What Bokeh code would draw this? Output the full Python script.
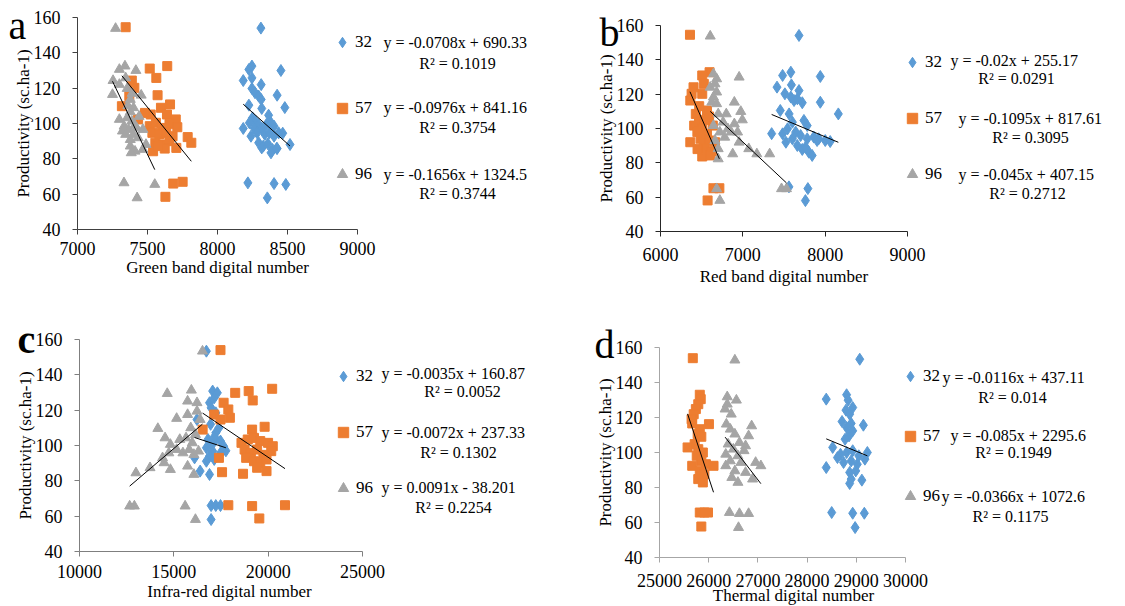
from bokeh.plotting import figure
from bokeh.layouts import column, row
from bokeh.models import FixedTicker, Range1d, Label, Legend, LegendItem, LinearAxis
from bokeh.embed import file_html
from bokeh.resources import INLINE

BLUE, ORANGE, GRAY = "#5B9BD5", "#ED7D31", "#A5A5A5"
SERIF = "Liberation Serif"
SERIES = ["32", "57", "96"]

# ---------------- data ----------------
a32_x = [8310, 8224, 8246, 8453, 8184, 8246, 8312, 8246, 8268, 8294,
         8312, 8426, 8481, 8224, 8316, 8365, 8250, 8272, 8294, 8228,
         8261, 8316, 8349, 8382, 8404, 8184, 8283, 8338, 8371, 8404,
         8437, 8466, 8239, 8294, 8327, 8360, 8393, 8426, 8382, 8316,
         8518, 8423, 8217, 8404, 8488, 8356]
a32_y = [154, 130.6, 132.5, 130, 124.3, 125.8, 122, 119.8, 117.4, 115.5,
         113.6, 116, 109, 110.4, 108.5, 104.7, 103.2, 101.3, 99.4, 100.4,
         97.5, 97.5, 99.4, 100.4, 98.5, 97.2, 94.7, 93.8, 94.7, 92.8,
         94.7, 94.5, 92.8, 89.1, 87.2, 88.5, 85.3, 85.8, 83.4, 86.2,
         88.1, 86, 66.4, 66, 65.5, 57.9]
a57_x = [7344, 7516, 7641, 7563, 7388, 7406, 7572, 7370, 7317, 7596,
         7661, 7433, 7523, 7639, 7702, 7516, 7560, 7601, 7657, 7713,
         7535, 7585, 7634, 7679, 7787, 7813, 7556, 7612, 7657, 7706,
         7540, 7623, 7578, 7482, 7684, 7751, 7628]
a57_y = [154.5, 131.1, 132.5, 125.8, 124.3, 120.2, 116, 115.5, 109.8, 108.9,
         110.8, 102.3, 105.1, 105.1, 102.3, 98.5, 100.4, 97.5, 99.8, 97.9,
         94.7, 93.8, 94.7, 92.8, 92.3, 89.1, 89.1, 88.1, 90, 86.2,
         84.3, 85.8, 87.2, 106, 66, 67, 58.5]
a96_x = [7272, 7299, 7339, 7417, 7254, 7299, 7344, 7250, 7355, 7455,
         7377, 7400, 7377, 7299, 7333, 7355, 7388, 7422, 7321, 7366,
         7400, 7467, 7377, 7433, 7489, 7377, 7411, 7467, 7384, 7344,
         7332, 7552, 7426, 7410, 7440, 7360, 7390]
a96_y = [153.8, 130.6, 132.5, 130, 124.3, 122.1, 125.8, 116.4, 119.8, 116,
         113.6, 108.9, 106.6, 102.3, 98.5, 103.2, 101.3, 97.5, 95.7, 96.6,
         93.8, 96.6, 90.9, 91.9, 88.1, 87.2, 84.3, 85.3, 83.4, 93.8,
         66.4, 65.5, 57.9, 99, 104, 110, 117]

b32_x = [7682, 7483, 7583, 7941, 7415, 7590, 7511, 7583, 7622, 7662,
         7682, 7722, 7941, 8160, 7455, 7562, 7602, 7742, 7782, 7350,
         7483, 7543, 7642, 7702, 7602, 7523, 7782, 7862, 7922, 8001,
         8061, 7662, 7722, 7802, 7762, 7842, 7902, 7560, 7790, 7760]
b32_y = [154.2, 130.9, 132.8, 130.3, 124.1, 125.4, 120.2, 118.3, 116.3, 117.3,
         122.1, 115, 115.3, 108.5, 110.5, 108.5, 103.7, 104.7, 101.7, 97,
         96.9, 99.8, 97.9, 95.9, 94, 92, 94, 95, 94, 93,
         92.4, 90.1, 87.8, 86.2, 89.1, 84.3, 93, 66, 65, 58]
b57_x = [6358, 6596, 6507, 6526, 6401, 6378, 6362, 6507, 6565, 6429,
         6409, 6468, 6507, 6565, 6487, 6526, 6596, 6362, 6545, 6624,
         6507, 6604, 6662, 6448, 6635, 6643, 6715, 6572, 6470, 6540,
         6590, 6450]
b57_y = [154.6, 132.8, 130.9, 126, 124, 120.2, 116.3, 120.2, 110.5, 108.5,
         101.7, 103.7, 99.8, 96.9, 94, 91.1, 93, 92, 88.2, 86.6,
         83.7, 84.3, 92, 97.9, 101.7, 65.2, 65.2, 58.1, 113, 105,
         107, 88]
b96_x = [6604, 6643, 6682, 6955, 6604, 6662, 6682, 6643, 6623, 6682,
         6897, 6701, 6799, 6975, 6994, 6643, 6760, 6897, 6721, 6819,
         6936, 6662, 6780, 6858, 6955, 6701, 7072, 6877, 7170, 7326,
         6701, 6682, 6721, 7470, 7530]
b96_y = [153.8, 131.8, 128.9, 129.9, 124, 126, 121.2, 118.3, 115.3, 114.4,
         115.3, 108.5, 108.5, 109.9, 105, 101.7, 103.7, 102.7, 97.9, 99.8,
         97.9, 93, 94.9, 97.9, 92, 88.2, 88.2, 85.2, 85.2, 85.2,
         82.3, 64.9, 58.1, 64.9, 64.9]

c32_x = [16726, 17058, 17307, 17141, 16892, 16975, 17224, 16228, 17390, 17224,
         16809, 17224, 17473, 17639, 16726, 17058, 17473, 16892, 17141, 16726,
         16394, 16892, 16100, 17639, 16975, 17224, 17473, 16975, 17760, 17000,
         17150, 16950]
c32_y = [153.4, 130.8, 129.8, 127, 124.2, 121.3, 118.5, 114.7, 110, 107.2,
         103.4, 103.4, 102.5, 99.6, 98.7, 96.8, 95.8, 94, 92.1, 91.1,
         85.5, 83.6, 93, 97.7, 66, 66, 66, 58.1, 97, 100,
         105, 112]
c57_x = [17473, 18253, 18967, 20212, 19182, 17639, 17888, 17971, 17141, 17473,
         16527, 19149, 19813, 18585, 18917, 19249, 19581, 19996, 20245, 20162,
         18751, 19083, 19415, 19747, 18834, 19249, 19581, 19913, 17390, 17556,
         18668, 19415, 19913, 17888, 19149, 20892, 19531]
c57_y = [154, 129.8, 130.8, 132.1, 125.5, 124.2, 120.4, 115.7, 117.5, 114.7,
         109, 109, 110.6, 101.5, 103.4, 104.3, 102.5, 101.5, 99.6, 96.8,
         97.7, 95.8, 97.7, 94.7, 93, 91.1, 90.2, 92.1, 93, 84.9,
         84, 87.4, 85.5, 66.2, 65.7, 66.2, 58.7]
c96_x = [16520, 14651, 15929, 15730, 16228, 15149, 15730, 16228, 16394, 14153,
         15896, 14535, 14817, 15315, 15647, 16145, 15979, 15149, 15481, 15813,
         16062, 16311, 14734, 14402, 13738, 14485, 14817, 15730, 12992, 16062,
         12659, 12908, 15598, 16145]
c96_y = [153.4, 129.4, 131.3, 125.1, 124.2, 115.3, 117.5, 119.4, 114.7, 109.6,
         110, 104.3, 100.6, 103.4, 104.3, 106.2, 101.5, 97.7, 95.8, 97.7,
         94.9, 96.8, 95.8, 93, 87.4, 90.2, 86.4, 88.3, 84.5, 83.6,
         65.7, 65.7, 65.7, 58.1]

d32_x = [29070, 28389, 28803, 28834, 28927, 28790, 28865, 28710, 28896, 29144,
         28803, 28852, 28927, 28772, 28520, 28679, 28617, 28803, 28927, 29051,
         29225, 28741, 28896, 29020, 29175, 28389, 28865, 28989, 28896, 29113,
         28865, 28500, 28927, 29163, 28976]
d32_y = [153.3, 130.5, 133, 129.9, 125.7, 124.2, 121.9, 117.7, 116.6, 115.6,
         114.3, 109.5, 112.4, 107.6, 102.9, 99, 97.1, 100, 101, 98.1,
         100, 94.3, 95.2, 93.3, 96.2, 91.4, 88.6, 89.5, 84.8, 84.2,
         82.3, 65.7, 65.3, 65.3, 57.1]
d57_x = [25677, 25819, 25838, 25788, 25739, 25695, 25652, 25665, 26005, 25819,
         25776, 25850, 25714, 25571, 25788, 25881, 25757, 25850, 25665, 25943,
         26098, 25819, 25912, 25788, 25881, 25819, 25912, 25986, 25850]
d57_y = [153.9, 133, 130.5, 127.6, 124.8, 121.9, 119, 116.6, 116.2, 113.3,
         110.5, 109, 104.8, 102.9, 101.9, 100, 98.1, 95.2, 92.4, 93.3,
         92.4, 89.5, 87.6, 84.8, 82.9, 65.7, 65.7, 65.7, 57.7]
d96_x = [26532, 26377, 26563, 26377, 26334, 26458, 26359, 26873, 26439, 26532,
         26811, 26396, 26625, 26749, 26501, 26347, 26594, 26718, 26439, 26656,
         26954, 27060, 26347, 26532, 26749, 26470, 26892, 26594, 26421, 26625,
         26811, 26606]
d96_y = [152.8, 131.8, 129.9, 127.6, 124.8, 121.9, 116.2, 115.2, 113.3, 110.5,
         109.5, 104.8, 105.7, 103.8, 101.9, 99, 98.1, 101, 95.2, 94.3,
         94.3, 92.4, 92.4, 89.5, 88.6, 85.7, 84.8, 82.9, 65.7, 65.1,
         65.1, 57.1]

# trend line coefficients (as printed on the chart)
a_slope = [-0.0708, -0.0976, -0.1656]; a_icpt = [690.33, 841.16, 1324.5]
b_slope = [-0.02, -0.1095, -0.045];    b_icpt = [255.17, 817.61, 407.15]
c_slope = [-0.0035, -0.0072, 0.0091];  c_icpt = [160.87, 237.33, -38.201]
d_slope = [-0.0116, -0.085, -0.0366];  d_icpt = [437.11, 2295.6, 1072.6]

a_eq = ["y = -0.0708x + 690.33", "y = -0.0976x + 841.16", "y = -0.1656x + 1324.5"]
a_r2 = ["R² = 0.1019", "R² = 0.3754", "R² = 0.3744"]
b_eq = ["y = -0.02x + 255.17", "y = -0.1095x + 817.61", "y = -0.045x + 407.15"]
b_r2 = ["R² = 0.0291", "R² = 0.3095", "R² = 0.2712"]
c_eq = ["y = -0.0035x + 160.87", "y = -0.0072x + 237.33", "y = 0.0091x - 38.201"]
c_r2 = ["R² = 0.0052", "R² = 0.1302", "R² = 0.2254"]
d_eq = ["y = -0.0116x + 437.11", "y = -0.085x + 2295.6", "y = -0.0366x + 1072.6"]
d_r2 = ["R² = 0.014", "R² = 0.1949", "R² = 0.1175"]

a_ticks = [7000, 7500, 8000, 8500, 9000]
b_ticks = [6000, 7000, 8000, 9000]
c_ticks = [10000, 15000, 20000, 25000]
d_ticks = [25000, 26000, 27000, 28000, 29000, 30000]
y_ticks = [40, 60, 80, 100, 120, 140, 160]
Y0, Y1 = 40, 160


def build(cfg):
    FL, FT, FR, FB = cfg["rect"]          # figure rectangle on the page
    W, H = FR - FL, FB - FT
    x0, x1 = cfg["xr"]
    p0, p1 = cfg["xpix"]                  # page pixels of x0, x1
    q0, q1 = cfg["ypix"]                  # page pixels of 160, 40
    kx = (p1 - p0) / (x1 - x0)
    ky = (q1 - q0) / (Y1 - Y0)
    xs_ = x0 - (p0 - FL) / kx
    xe_ = x0 + (FR - p0) / kx
    ye_ = Y1 + (q0 - FT) / ky
    ys_ = Y0 - (FB - q1) / ky

    def sx(px):
        return px - FL

    def sy(py):
        return FB - py

    p = figure(width=W, height=H, min_border=0, title=None,
               x_range=Range1d(xs_, xe_), y_range=Range1d(ys_, ye_),
               x_axis_type=None, y_axis_type=None,
               output_backend="svg", toolbar_location=None)
    p.grid.visible = False
    p.outline_line_color = None
    p.background_fill_color = "white"
    p.border_fill_color = "white"

    xax = LinearAxis(fixed_location=Y0, bounds=(x0, x1), ticker=FixedTicker(ticks=cfg["ticks"]))
    yax = LinearAxis(fixed_location=x0, bounds=(Y0, Y1), ticker=FixedTicker(ticks=y_ticks))
    for ax in (xax, yax):
        ax.axis_line_color = cfg["axc"]
        ax.major_tick_line_color = cfg["axc"]
        ax.minor_tick_line_color = None
        ax.major_tick_in = 0
        ax.major_tick_out = 5
        ax.major_label_text_font = SERIF
        ax.major_label_text_font_size = "18px"
        ax.major_label_text_color = "#000000"
        ax.axis_label_text_font = SERIF
        ax.axis_label_text_font_size = "17px"
        ax.axis_label_text_font_style = "normal"
        ax.axis_label_text_color = "#000000"
    yax.major_label_standoff = 12
    yax.axis_label = "Productivity (sc.ha-1)"
    yax.axis_label_standoff = -2
    xax.major_label_standoff = cfg["xlab_stand"]
    if cfg.get("xtitle_stand") is not None:
        xax.axis_label = cfg["xtitle"]
        xax.axis_label_standoff = cfg["xtitle_stand"]
    else:
        tx, ty = cfg["xtitle_pos"]
        p.add_layout(Label(x=sx(tx), y=sy(ty), x_units="screen", y_units="screen",
                           text=cfg["xtitle"], text_font=SERIF, text_font_size="17px",
                           text_align="center", text_baseline="middle", text_color="#000000"))
    p.add_layout(xax, "below")
    p.add_layout(yax, "left")

    rends = []
    r = p.scatter(cfg["series"][0][0], cfg["series"][0][1], marker="diamond", size=12,
                  fill_color=BLUE, line_color=BLUE)
    rends.append(r)
    r = p.scatter(cfg["series"][1][0], cfg["series"][1][1], marker="square", size=9,
                  fill_color=ORANGE, line_color=ORANGE)
    rends.append(r)
    r = p.scatter(cfg["series"][2][0], cfg["series"][2][1], marker="triangle", size=10,
                  fill_color=GRAY, line_color=GRAY)
    rends.append(r)
    for i, (xs, ys) in enumerate(cfg["series"]):
        m, b0 = cfg["slope"][i], cfg["icpt"][i]
        xa, xb = min(xs), max(xs)
        p.line([xa, xb], [m * xa + b0, m * xb + b0], line_color="#000000", line_width=1)

    # legend: markers + series names
    G = 26
    mx = cfg["leg_x"]
    rows = cfg["leg_rows"]
    pitch = (rows[2] - rows[0]) / 2.0
    top = rows[0] - G / 2.0
    height = G + 2 * pitch
    leg = Legend(items=[LegendItem(label=SERIES[i], renderers=[rends[i]]) for i in range(3)],
                 location=(sx(mx - G / 2.0), sy(top + height)),
                 glyph_width=G, glyph_height=G, label_height=G, label_width=10,
                 spacing=int(round(pitch - G)),
                 padding=0, margin=0, label_standoff=0,
                 label_text_font=SERIF, label_text_font_size="17px", label_text_color="#000000",
                 border_line_color=None, background_fill_alpha=0)
    p.add_layout(leg, "center")

    for i in range(3):
        ex, ey = cfg["eq_pos"][i]
        p.add_layout(Label(x=sx(ex), y=sy(ey), x_units="screen", y_units="screen",
                           text=cfg["eq"][i], text_font=SERIF, text_font_size="16px",
                           text_align="left", text_baseline="middle", text_color="#000000"))
        rx, ry = cfg["r2_pos"][i]
        p.add_layout(Label(x=sx(rx), y=sy(ry), x_units="screen", y_units="screen",
                           text=cfg["r2"][i], text_font=SERIF, text_font_size="16px",
                           text_align="center", text_baseline="middle", text_color="#000000"))

    lx, ly = cfg["letter_pos"]
    p.add_layout(Label(x=sx(lx), y=sy(ly), x_units="screen", y_units="screen",
                       text=cfg["letter"], text_font=SERIF, text_font_size="40px",
                       text_font_style=cfg.get("letter_style", "normal"),
                       text_align="left", text_baseline="middle", text_color="#000000"))
    return p


pa = build(dict(rect=(0, 0, 560, 300), xr=(7000, 9000), xpix=(77, 357), ypix=(17, 229),
                ticks=a_ticks, axc="#404040", xlab_stand=7,
                xtitle="Green band digital number", xtitle_stand=0,
                series=[(a32_x, a32_y), (a57_x, a57_y), (a96_x, a96_y)],
                slope=a_slope, icpt=a_icpt, eq=a_eq, r2=a_r2,
                leg_x=342, leg_rows=[42, 107, 174],
                eq_pos=[(383, 42), (383, 107), (383, 174)],
                r2_pos=[(457, 63), (457, 127), (457, 193)],
                letter="a", letter_pos=(8, 25)))

pb = build(dict(rect=(560, 0, 1125, 300), xr=(6000, 9000), xpix=(660, 907), ypix=(25, 231),
                ticks=b_ticks, axc="#262626", xlab_stand=11,
                xtitle="Red band digital number", xtitle_stand=3,
                series=[(b32_x, b32_y), (b57_x, b57_y), (b96_x, b96_y)],
                slope=b_slope, icpt=b_icpt, eq=b_eq, r2=b_r2,
                leg_x=912, leg_rows=[62, 118, 174],
                eq_pos=[(950, 60), (958, 118), (958, 174)],
                r2_pos=[(1016, 78), (1030, 137), (1027, 193)],
                letter="b", letter_pos=(599, 32)))

pc = build(dict(rect=(0, 300, 560, 606), xr=(10000, 25000), xpix=(79, 362), ypix=(339, 551),
                ticks=c_ticks, axc="#7f7f7f", xlab_stand=8,
                xtitle="Infra-red digital number", xtitle_pos=(229, 591),
                series=[(c32_x, c32_y), (c57_x, c57_y), (c96_x, c96_y)],
                slope=c_slope, icpt=c_icpt, eq=c_eq, r2=c_r2,
                leg_x=343, leg_rows=[377, 432, 488],
                eq_pos=[(381, 373), (381, 432), (381, 487)],
                r2_pos=[(462, 391), (458, 452), (453, 507)],
                letter="c", letter_style="bold", letter_pos=(17, 339)))

pd_ = build(dict(rect=(560, 300, 1125, 606), xr=(25000, 30000), xpix=(659, 905), ypix=(347, 557),
                 ticks=d_ticks, axc="#a6a6a6", xlab_stand=11,
                 xtitle="Thermal digital number", xtitle_pos=(793, 595),
                 series=[(d32_x, d32_y), (d57_x, d57_y), (d96_x, d96_y)],
                 slope=d_slope, icpt=d_icpt, eq=d_eq, r2=d_r2,
                 leg_x=910, leg_rows=[377, 435, 496],
                 eq_pos=[(942, 377), (950, 435), (941, 496)],
                 r2_pos=[(1012, 397), (1013, 452), (1010, 516)],
                 letter="d", letter_pos=(594, 344)))

layout = column(row(pa, pb), row(pc, pd_))
open("out.html", "w").write(file_html(layout, INLINE))
